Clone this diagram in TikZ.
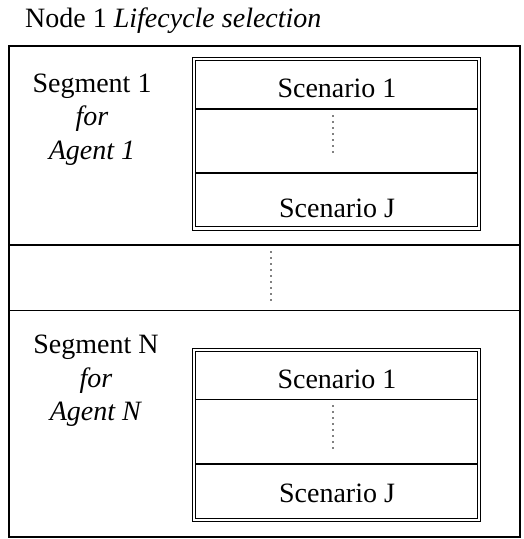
\documentclass[tikz,border=0pt]{standalone}
\usepackage{fontspec}
\setmainfont{Liberation Serif}
\begin{document}
\begin{tikzpicture}[x=1pt,y=-1pt,
  frame/.style={line width=1.4pt},
  rowline/.style={line width=1.2pt},
  scbox/.style={draw, line width=1.1pt, double, double distance=2.4pt},
  vdots/.style={line width=1.6pt, line cap=round, dash pattern=on 0pt off 6pt},
  txt/.style={font=\fontsize{28}{34}\selectfont, inner sep=0pt, anchor=base}]
\useasboundingbox (0,0) rectangle (524,539);

% title
\node[txt, anchor=base west] (title) at (25,27) {Node 1 \textit{Lifecycle selection}};

% outer frame and segment separators
\draw[frame] (9,46) rectangle (520,537);
\draw[frame] (9,245) -- (520,245);
\draw[frame] (9,310.5) -- (520,310.5);
\coordinate (m1) at (271,252);
\coordinate (m2) at (271,301);
\draw[vdots] (m1) -- (m2);

% segment 1
\node[txt] (seg1) at (92,92) {Segment 1};
\node[txt] (for1) at (92,125) {\textit{for}};
\node[txt] (ag1) at (92,159) {\textit{Agent 1}};
\draw[scbox] (194,59) rectangle (479,228.5);
\draw[rowline] (196,109) -- (477,109);
\draw[rowline] (196,173) -- (477,173);
\node[txt] (s11) at (337,97) {Scenario 1};
\coordinate (d1a) at (333,116);
\coordinate (d1b) at (333,158);
\draw[vdots] (d1a) -- (d1b);
\node[txt] (s1J) at (337,217) {Scenario J};

% segment N
\node[txt] (segN) at (96,353) {Segment N};
\node[txt] (forN) at (96,387) {\textit{for}};
\node[txt] (agN) at (96,420) {\textit{Agent N}};
\draw[scbox] (194,350) rectangle (479,520);
\draw[rowline] (196,399.5) -- (477,399.5);
\draw[rowline] (196,464) -- (477,464);
\node[txt] (sN1) at (337,388) {Scenario 1};
\coordinate (dNa) at (333,406);
\coordinate (dNb) at (333,450);
\draw[vdots] (dNa) -- (dNb);
\node[txt] (sNJ) at (337,502) {Scenario J};
\end{tikzpicture}
\end{document}
